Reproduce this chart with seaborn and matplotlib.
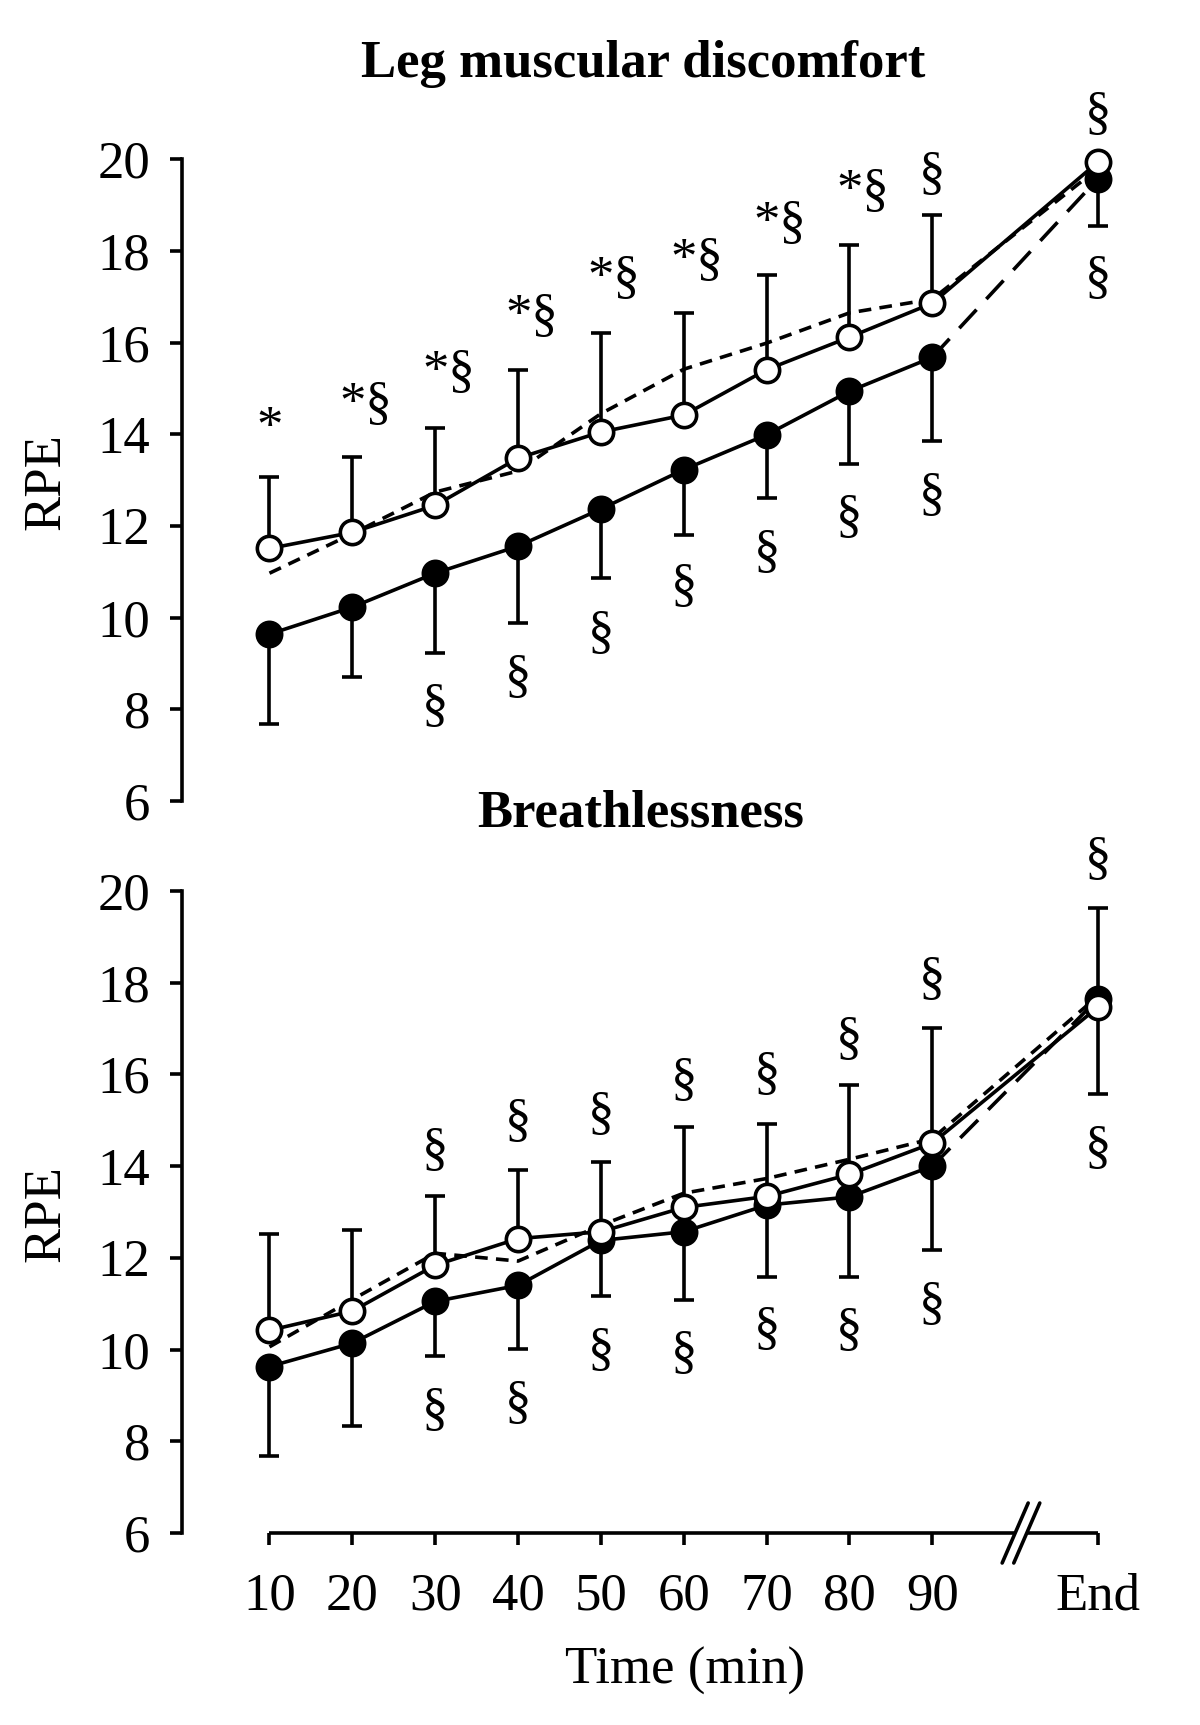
import numpy as np
import pandas as pd
import seaborn as sns
import matplotlib
matplotlib.use("Agg")
import matplotlib.pyplot as plt

# ---- data ----
time_labels = ["10", "20", "30", "40", "50", "60", "70", "80", "90", "End"]
x_pos = [0, 1, 2, 3, 4, 5, 6, 7, 8, 10]

# Leg muscular discomfort
leg_filled = [9.64, 10.23, 10.97, 11.56, 12.37, 13.23, 13.99, 14.94, 15.68, 19.58]
leg_filled_low = [7.68, 8.71, 9.23, 9.89, 10.86, 11.80, 12.62, 13.35, 13.85, 18.55]
leg_open = [11.51, 11.86, 12.45, 13.48, 14.05, 14.42, 15.41, 16.12, 16.86, 19.94]
leg_open_high = [13.06, 13.50, 14.14, 15.41, 16.21, 16.65, 17.47, 18.13, 18.78, 19.94]
leg_dashed = [10.97, 11.83, 12.74, 13.20, 14.45, 15.42, 15.99, 16.65, 16.95, 19.80]
leg_top_marks = ["*", "*§", "*§", "*§", "*§", "*§", "*§", "*§", "§", "§"]
leg_top_y = [14.12, 14.65, 15.34, 16.56, 17.39, 17.79, 18.59, 19.29, 19.66, 20.97]
leg_low_marks = ["", "", "§", "§", "§", "§", "§", "§", "§", "§"]
leg_low_y = [0, 0, 8.04, 8.69, 9.64, 10.66, 11.40, 12.17, 12.66, 17.39]

# Breathlessness
br_filled = [9.63, 10.14, 11.05, 11.40, 12.38, 12.57, 13.15, 13.33, 14.00, 17.65]
br_filled_low = [7.69, 8.34, 9.85, 10.01, 11.17, 11.08, 11.59, 11.59, 12.17, 15.58]
br_open = [10.42, 10.84, 11.84, 12.42, 12.57, 13.10, 13.34, 13.82, 14.50, 17.47]
br_open_high = [12.51, 12.60, 13.34, 13.92, 14.09, 14.86, 14.92, 15.77, 17.02, 19.64]
br_dashed = [10.06, 11.09, 12.10, 11.93, 12.71, 13.41, 13.73, 14.15, 14.60, 17.71]
br_top_marks = ["", "", "§", "§", "§", "§", "§", "§", "§", "§"]
br_top_y = [0, 0, 14.34, 14.96, 15.12, 15.86, 15.99, 16.76, 18.05, 20.68]
br_low_marks = ["", "", "§", "§", "§", "§", "§", "§", "§", "§"]
br_low_y = [0, 0, 8.66, 8.82, 9.97, 9.91, 10.42, 10.40, 10.98, 14.38]

sns.set_theme(style="white")
plt.rcParams['font.family'] = ['Liberation Serif', 'DejaVu Serif']
plt.rcParams['text.color'] = 'black'
plt.rcParams['axes.labelcolor'] = 'black'
plt.rcParams['xtick.color'] = 'black'
plt.rcParams['ytick.color'] = 'black'

LW = 2.6
FS = 38
fig = plt.figure(figsize=(12, 17.25), dpi=100)
ax_top = fig.add_axes([0.15167, 0.53565, 0.8324, 0.3720])
ax_bot = fig.add_axes([0.15167, 0.11130, 0.8324, 0.37217])

short_dash = (0, (3.5, 2.3))
long_dash = (0, (7, 4))


def draw_panel(ax, filled, filled_low, opn, opn_high, dashed, top_marks, top_y, low_marks, low_y):
    xs = np.array(x_pos, dtype=float)
    filled = np.array(filled)
    opn = np.array(opn)
    # reference (short dashed) line
    sns.lineplot(x=xs, y=dashed, ax=ax, color="black", lw=LW, linestyle=short_dash, zorder=2)
    # solid lines up to 90 min
    sns.lineplot(x=xs[:9], y=filled[:9], ax=ax, color="black", lw=LW, zorder=2)
    sns.lineplot(x=xs[:9], y=opn[:9], ax=ax, color="black", lw=LW, zorder=2)
    # segments to End
    ax.plot(xs[8:], filled[8:], color="black", lw=LW, linestyle=long_dash, zorder=2)
    ax.plot(xs[8:], opn[8:], color="black", lw=LW, zorder=2)
    # one-sided error bars
    ax.errorbar(xs, filled, yerr=[filled - np.array(filled_low), np.zeros(len(xs))],
                fmt="none", ecolor="black", elinewidth=LW, capsize=7.5, capthick=LW, zorder=3)
    ax.errorbar(xs, opn, yerr=[np.zeros(len(xs)), np.array(opn_high) - opn],
                fmt="none", ecolor="black", elinewidth=LW, capsize=7.5, capthick=LW, zorder=3)
    # markers
    ax.plot(xs, filled, "o", ms=17.5, mfc="black", mec="black", mew=LW, zorder=4, clip_on=False)
    ax.plot(xs, opn, "o", ms=17.5, mfc="white", mec="black", mew=LW, zorder=5, clip_on=False)
    # significance symbols
    for x, t, y in zip(xs, top_marks, top_y):
        if t:
            dx = 0.16 if t == "*§" else 0.0
            ax.text(x + dx, y, t, ha="center", va="center", fontsize=FS, zorder=6)
    for x, t, y in zip(xs, low_marks, low_y):
        if t:
            ax.text(x, y, t, ha="center", va="center", fontsize=FS, zorder=6)

    ax.set_xlim(-1.056, 11)
    ax.set_ylim(6, 20)
    ax.set_yticks(range(6, 21, 2))
    ax.set_yticklabels([str(v) for v in range(6, 21, 2)], fontsize=FS)
    for s in ["top", "right", "bottom"]:
        ax.spines[s].set_visible(False)
    ax.spines["left"].set_linewidth(LW)
    ax.spines["left"].set_color("black")
    ax.tick_params(axis="y", direction="out", length=8.6, width=LW, pad=14, colors="black", left=True)
    ax.set_xlabel("")
    ax.set_ylabel("")
    ax.grid(False)


draw_panel(ax_top, leg_filled, leg_filled_low, leg_open, leg_open_high, leg_dashed,
           leg_top_marks, leg_top_y, leg_low_marks, leg_low_y)
ax_top.set_xticks([])

draw_panel(ax_bot, br_filled, br_filled_low, br_open, br_open_high, br_dashed,
           br_top_marks, br_top_y, br_low_marks, br_low_y)
ax_bot.set_xticks(x_pos)
ax_bot.set_xticklabels(time_labels, fontsize=FS)
ax_bot.tick_params(axis="x", direction="out", length=8.6, width=LW, pad=20, colors="black", bottom=True)

# broken x axis line with // marks
ax_bot.plot([0, 9.0], [6, 6], color="black", lw=LW, clip_on=False, solid_capstyle="butt")
ax_bot.plot([9.14, 10], [6, 6], color="black", lw=LW, clip_on=False, solid_capstyle="butt")
for cx in (9.0, 9.14):
    ax_bot.plot([cx - 0.157, cx + 0.157], [6 - 0.654, 6 + 0.654], color="black", lw=LW, clip_on=False)

# titles and labels
fig.text(643 / 1200, 1 - 76.7 / 1725, "Leg muscular discomfort", ha="center", va="baseline",
         fontsize=38, fontweight="bold")
fig.text(641 / 1200, 1 - 826.5 / 1725, "Breathlessness", ha="center", va="baseline",
         fontsize=38, fontweight="bold")
fig.text(0.0388, 1 - 482 / 1725, "RPE", rotation=90, ha="center", va="center", fontsize=FS)
fig.text(0.0388, 1 - 1214 / 1725, "RPE", rotation=90, ha="center", va="center", fontsize=FS)
fig.text(685 / 1200, 1 - 1684 / 1725, "Time (min)", ha="center", va="baseline", fontsize=FS)

fig.savefig("out.png", dpi=100, facecolor="white")
